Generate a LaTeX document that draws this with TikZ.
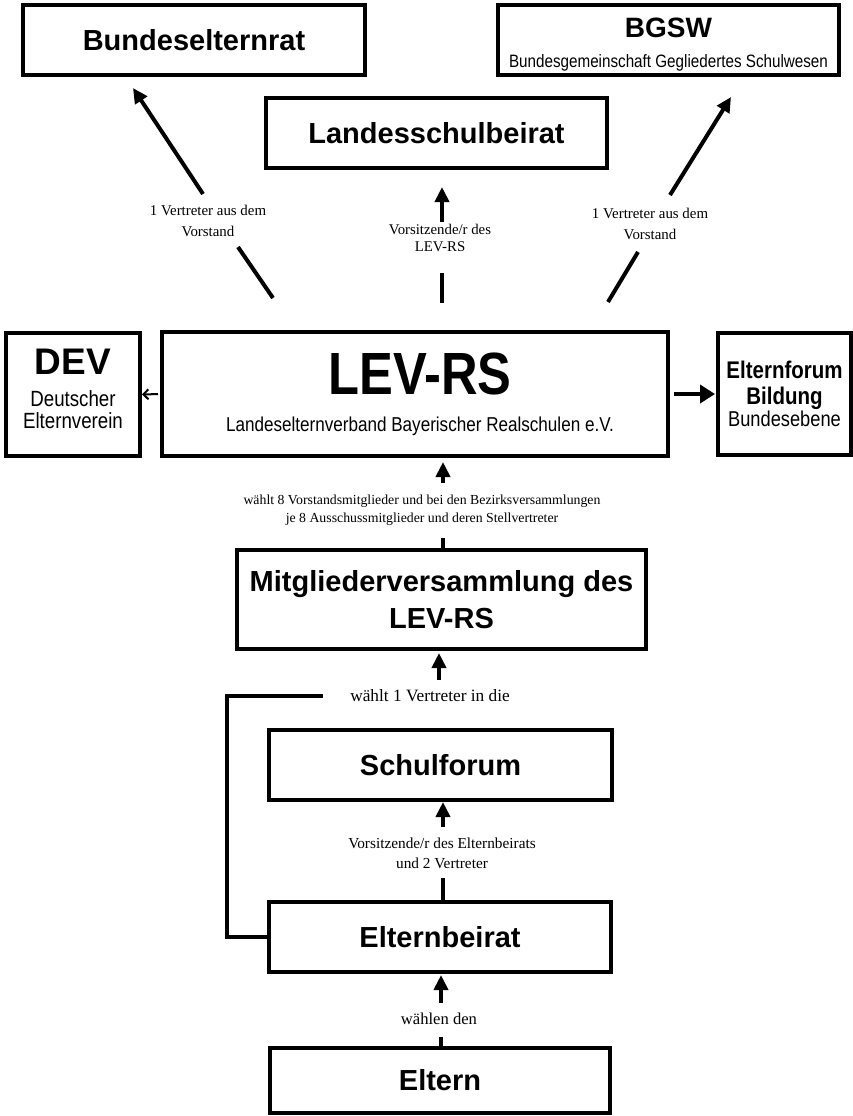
\documentclass[tikz,border=0pt]{standalone}
\usepackage{fontspec}
\setmainfont{Liberation Serif}
\setsansfont{Liberation Sans}
\newfontfamily\cond[FakeStretch=0.85]{Liberation Sans}
\usetikzlibrary{arrows.meta}
\begin{document}
\begin{tikzpicture}[x=1pt,y=-1pt,
  box/.style={draw, line width=4pt, inner sep=0pt, outer sep=0pt, align=center},
  ttl/.style={font=\sffamily\bfseries\fontsize{29}{37}\selectfont},
  lab/.style 2 args={inner sep=0pt, align=center, font=\fontsize{#1}{#2}\selectfont},
  seg/.style={line width=4pt},
  arr/.style={line width=4pt, -{Triangle[length=15pt,width=14pt]}},
  thinarr/.style={line width=2pt, -{Straight Barb[length=5pt,width=10pt]}}
]
\useasboundingbox (0,0) rectangle (852,1116);
\fill[white] (0,0) rectangle (852,1116);

% boxes
\node[box, ttl, minimum width=342pt, minimum height=70pt] (ber) at (194,40) {Bundeselternrat};
\node[box, minimum width=341pt, minimum height=70pt, font=\cond\fontsize{17.9}{30}\selectfont] (bgsw) at (668.5,40)
  {\rule{0pt}{28pt}{\sffamily\bfseries\fontsize{28}{30}\selectfont BGSW}\\Bundesgemeinschaft Gegliedertes Schulwesen};
\node[box, ttl, minimum width=341pt, minimum height=70pt] (lsb) at (436.5,133) {Landesschulbeirat};

\node[box, minimum width=134pt, minimum height=123pt, font=\cond\fontsize{22}{22}\selectfont] (dev) at (73,394.5)
  {{\sffamily\bfseries\fontsize{37}{22}\selectfont DEV}\\[10pt]Deutscher\\Elternverein\rule[-12pt]{0pt}{12pt}};
\node[box, minimum width=506pt, minimum height=124pt, font=\cond\fontsize{20.1}{37}\selectfont] (lev) at (415,394)
  {\hspace*{10pt}{\bfseries\fontsize{59.6}{37}\selectfont LEV-RS}\\\hspace*{10pt}Landeselternverband Bayerischer Realschulen e.V.};
\node[box, minimum width=133pt, minimum height=122pt, font=\cond\fontsize{21.5}{22}\selectfont] (ef) at (784.5,394)
  {{\bfseries\fontsize{24.1}{22}\selectfont Elternforum}\\[4pt]{\bfseries\fontsize{24.1}{22}\selectfont Bildung}\\Bundesebene};

\node[box, ttl, minimum width=409pt, minimum height=99pt] (mv) at (441.5,599.5) {Mitgliederversammlung des\\LEV-RS};
\node[box, ttl, minimum width=343pt, minimum height=70pt] (sf) at (440.5,765) {Schulforum};
\node[box, ttl, minimum width=342pt, minimum height=70pt] (eb) at (440,937) {Elternbeirat};
\node[box, ttl, minimum width=340pt, minimum height=65pt] (el) at (440,1080.5) {Eltern};

% labels
\node[lab={14.9}{21}] (l1) at (208,221) {1 Vertreter aus dem\\Vorstand};
\node[lab={14.8}{17.5}] (l2) at (440,238) {Vorsitzende/r des\\LEV-RS};
\node[lab={14.9}{21}] (l3) at (650,224) {1 Vertreter aus dem\\Vorstand};
\node[lab={13.8}{18}] (l4) at (422,510) {wählt 8 Vorstandsmitglieder und bei den Bezirksversammlungen\\je 8 Ausschussmitglieder und deren Stellvertreter};
\node[lab={17.3}{20}] (l5) at (430,696) {wählt 1 Vertreter in die};
\node[lab={15.3}{20}] (l6) at (442,853) {Vorsitzende/r des Elternbeirats\\und 2 Vertreter};
\node[lab={16.6}{20}] (l7) at (439,1019) {wählen den};

% free ends of the interrupted connectors
\coordinate (d1a) at (273,298); \coordinate (d1b) at (238,247);
\coordinate (d1c) at (203,194); \coordinate (d1d) at (133,88);
\coordinate (d3a) at (608,302); \coordinate (d3b) at (638,252);
\coordinate (d3c) at (670,195); \coordinate (d3d) at (731,97);
\coordinate (t2a) at (442,303); \coordinate (t2b) at (442,273);
\coordinate (t2c) at (442,222);
\coordinate (m4a) at (443,483); \coordinate (m4b) at (443,538);
\coordinate (m5) at (439,680);
\coordinate (k1) at (227,696); \coordinate (k2) at (323,696);
\coordinate (s6a) at (443,827); \coordinate (s6b) at (443,878);
\coordinate (e7a) at (441,1003); \coordinate (e7b) at (441,1037);

% connectors
\draw[seg] (d1a) -- (d1b);
\draw[arr] (d1c) -- (d1d);
\draw[seg] (d3a) -- (d3b);
\draw[arr] (d3c) -- (d3d);
\draw[seg] (t2a) -- (t2b);
\draw[arr, shorten >=19pt] (t2c) -- (t2c |- lsb.south);

\draw[thinarr, shorten <=4pt, shorten >=2pt] (lev.west) -- (dev.east);
\draw[line width=4pt, -{Triangle[length=15pt,width=18pt]}, shorten <=6pt, shorten >=3pt] (lev.east) -- (ef.west);

\draw[arr, shorten >=6pt] (m4a) -- (m4a |- lev.south);
\draw[seg] (m4b |- mv.north) -- (m4b);

\draw[arr, shorten >=4pt] (m5) -- (m5 |- mv.south);
\draw[seg] (eb.west) -| (k1) -- (k2);

\draw[arr, shorten >=2pt] (s6a) -- (s6a |- sf.south);
\draw[seg] (s6b |- eb.north) -- (s6b);

\draw[arr, shorten >=3pt] (e7a) -- (e7a |- eb.south);
\draw[seg] (e7b |- el.north) -- (e7b);
\end{tikzpicture}
\end{document}
